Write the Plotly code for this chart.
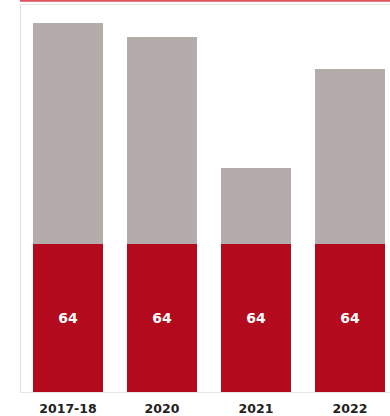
import plotly.graph_objects as go

categories = ["2017-18", "2020", "2021", "2022"]
red_values = [64, 64, 64, 64]
gray_values = [96, 90, 33, 76]

RED = "#B30A1D"
GRAY = "#B4ACAA"

fig = go.Figure()
fig.add_trace(go.Bar(
    x=categories, y=red_values, marker=dict(color=RED, line=dict(width=0)),
    text=[str(v) for v in red_values], textposition="inside",
    insidetextanchor="middle",
    textfont=dict(color="white", size=14, family="DejaVu Sans", weight="bold"),
    hoverinfo="skip",
))
fig.add_trace(go.Bar(
    x=categories, y=gray_values, marker=dict(color=GRAY, line=dict(width=0)),
    hoverinfo="skip",
))

plot_h = 416 - 5 - 24
fig.update_layout(
    width=390, height=416,
    margin=dict(l=21, r=0, t=5, b=24),
    barmode="stack", bargap=0.245,
    showlegend=False,
    paper_bgcolor="white", plot_bgcolor="white",
    xaxis=dict(
        range=[-0.5, -0.5 + 369 / 94], showgrid=False, zeroline=False,
        showline=True, linecolor="#E6E6E6", linewidth=1, mirror=True,
        tickfont=dict(family="DejaVu Sans", size=12.5, color="#222222", weight="bold"),
        ticks="", ticklabelstandoff=5, fixedrange=True,
    ),
    yaxis=dict(
        range=[0, plot_h / 2.305], showgrid=False, zeroline=False,
        showticklabels=False, showline=True, linecolor="#E0E0E0", linewidth=1,
        ticks="",
    ),
    shapes=[dict(
        type="line", xref="paper", yref="paper",
        x0=-0.003, x1=1, y0=1 + 4.3 / plot_h, y1=1 + 4.3 / plot_h,
        line=dict(color="#E0535C", width=2),
    )],
)

fig.write_html("out.html")
